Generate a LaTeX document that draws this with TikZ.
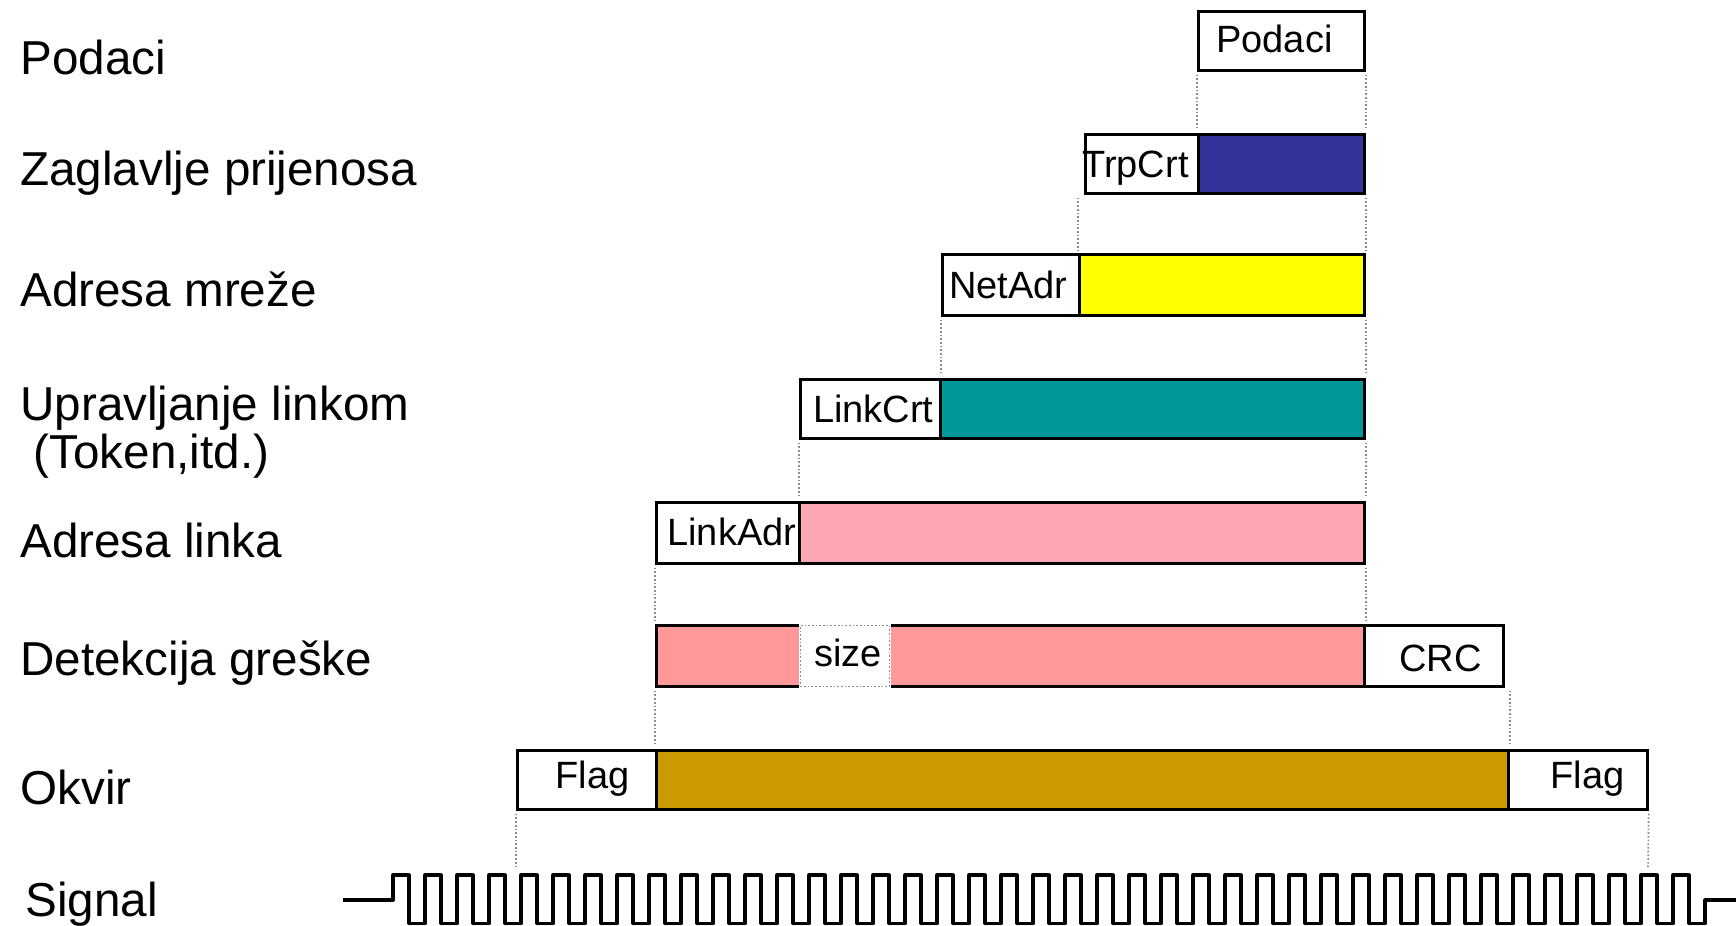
\documentclass[tikz,border=0pt]{standalone}
\usepackage{fontspec}
\setmainfont{Liberation Sans}
\definecolor{cblue}{HTML}{333399}
\definecolor{cyellow}{HTML}{FFFF00}
\definecolor{cteal}{HTML}{009999}
\definecolor{cpink}{HTML}{FFA6B4}
\definecolor{csalmon}{HTML}{FF9999}
\definecolor{cgold}{HTML}{CC9900}
\definecolor{cguide}{HTML}{8C8C8C}
\newdimen\unitpx \unitpx=0.5pt
% width of cell, left offset, baseline below centre, text
\newcommand{\celltext}[4]{\raisebox{-#3\unitpx}[0pt][0pt]{\makebox[#1\unitpx][l]{\hspace*{#2\unitpx}#4}}}
\begin{document}
\begin{tikzpicture}[x=0.5pt,y=-0.5pt,
  cell/.style={draw=black, line width=1.35pt, inner sep=0pt, anchor=north west,
    text height=0pt, text depth=0pt, font=\fontsize{19}{22}\selectfont},
  wh/.style 2 args={minimum width=#1*0.5pt, minimum height=#2*0.5pt},
  guide/.style={draw=cguide, densely dotted, line width=0.85pt, shorten <=1.5pt, shorten >=1.5pt},
  lab/.style={anchor=base west, inner sep=0pt, font=\fontsize{23.8}{23}\selectfont},
  sig/.style={draw=black, line width=1.6pt, line join=round}]
\useasboundingbox (0,0) rectangle (1736,926);

% left labels
\node[lab] (l1) at (20,74) {Podaci};
\node[lab] (l2) at (20,185) {Zaglavlje prijenosa};
\node[lab] (l3) at (20,306.7) {Adresa mre\v{z}e};
\node[lab] (l4) at (20,420.7) {\begin{tabular}[t]{@{}l@{}}Upravljanje linkom\\ \ (Token,itd.)\end{tabular}};
\node[lab] (l5) at (20,557.3) {Adresa linka};
\node[lab] (l6) at (20,675.7) {Detekcija gre\v{s}ke};
\node[lab] (l7) at (20,804) {Okvir};
\node[lab] (l8) at (25,916.7) {Signal};

% rows
\node[cell, wh={166}{59}, fill=white] (podaci) at (1197,10) {\celltext{166}{18}{11.5}{Podaci}};

\node[cell, wh={113}{59}, fill=white] (trp) at (1084,133) {\celltext{113}{-3}{13.2}{TrpCrt}};
\node[cell, wh={166}{59}, fill=cblue] (blue) at (1197,133) {};

\node[cell, wh={137}{61}, fill=white] (netadr) at (941,253) {\celltext{137}{7}{13.2}{NetAdr}};
\node[cell, wh={285}{61}, fill=cyellow] (yellow) at (1078,253) {};

\node[cell, wh={140}{59}, fill=white] (linkcrt) at (799,378) {\celltext{140}{12.7}{14}{LinkCrt}};
\node[cell, wh={424}{59}, fill=cteal] (teal) at (939,378) {};

\node[cell, wh={143}{61}, fill=white] (linkadr) at (655,501) {\celltext{143}{11}{12.5}{LinkAdr}};
\node[cell, wh={565}{61}, fill=cpink] (pink) at (798,501) {};

\node[cell, wh={708}{61}, fill=csalmon] (salmon) at (655,624) {};
\node[cell, wh={89}{61}, draw=white, fill=white,
  postaction={draw=cguide, densely dotted, line width=0.85pt}] (size) at (799,624) {\celltext{89}{13.7}{10.5}{size}};
\node[cell, wh={139}{61}, fill=white] (crc) at (1363,624) {\celltext{139}{35}{16}{CRC}};

\node[cell, wh={139}{59}, fill=white] (flagl) at (516,749) {\celltext{139}{38}{8.5}{Flag}};
\node[cell, wh={852}{59}, fill=cgold] (gold) at (655,749) {};
\node[cell, wh={139}{59}, fill=white] (flagr) at (1507,749) {\celltext{139}{42}{8.2}{Flag}};

% signal
\coordinate (sigl) at (516,872);
\coordinate (sigr) at (1648,872);
\draw[sig] (343,900) -- (393,900)
  \foreach \k in {0,...,40}{ -- ({393+32*\k},875) -- ({409+32*\k},875) -- ({409+32*\k},923.5) -- ({425+32*\k},923.5) }
  -- (1705,900) -- (1736,900);

% guide lines
\draw[guide] (podaci.south west) -- (blue.north west);
\draw[guide] (podaci.south east) -- (blue.north east);
\draw[guide] (yellow.north west |- trp.south) -- (yellow.north west);
\draw[guide] (blue.south east) -- (yellow.north east);
\draw[guide] (netadr.south west) -- (netadr.south west |- teal.north);
\draw[guide] (yellow.south east) -- (teal.north east);
\draw[guide] (linkcrt.south west) -- (linkcrt.south west |- pink.north);
\draw[guide] (teal.south east) -- (pink.north east);
\draw[guide] (linkadr.south west) -- (salmon.north west);
\draw[guide] (pink.south east) -- (salmon.north east);
\draw[guide] (salmon.south west) -- (gold.north west);
\draw[guide] (gold.north east |- crc.south) -- (gold.north east);
\draw[guide] (flagl.south west) -- (sigl);
\draw[guide] (flagr.south east) -- (sigr);
\end{tikzpicture}
\end{document}
